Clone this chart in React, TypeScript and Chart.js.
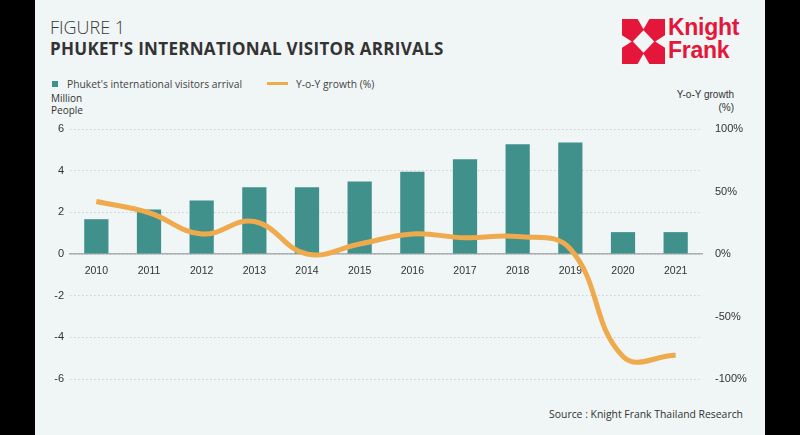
import React, { useEffect, useRef } from "react";
import { Chart, registerables } from "chart.js";

Chart.register(...registerables);

const years = ["2010", "2011", "2012", "2013", "2014", "2015", "2016", "2017", "2018", "2019", "2020", "2021"];
const arrivals = [1.67, 2.14, 2.57, 3.2, 3.2, 3.48, 3.95, 4.55, 5.27, 5.35, 1.05, 1.05];
const growth = [42, 33, 16, 26, 0, 8, 16, 13, 14, 4, -82, -81];
const leftRange = [-6, 6];
const rightRange = [-100, 100];

const barLabel = "Phuket's international visitors arrival";
const lineLabel = "Y-o-Y growth (%)";

const TEAL = "#40908b";
const ORANGE = "#eeaa4c";
const BG = "#f0f5f5";
const TXT = "#333";

function Logo() {
  return (
    <svg width={43} height={45} viewBox="0 0 44 44" preserveAspectRatio="none" style={{ position: "absolute", left: 622, top: 19 }}>
      <rect x={0} y={0} width={44} height={44} fill="#e4163a" />
      <polygon points="22,11 33,22 22,33 11,22" fill={BG} />
      <polygon points="16,0 28,0 22,10" fill={BG} />
      <polygon points="16,44 28,44 22,34" fill={BG} />
      <polygon points="0,16 0,28 10,22" fill={BG} />
      <polygon points="44,16 44,28 34,22" fill={BG} />
    </svg>
  );
}

export default function App() {
  const ref = useRef<HTMLCanvasElement | null>(null);

  useEffect(() => {
    if (!ref.current) return;
    const chart = new Chart(ref.current, {
      data: {
        labels: years,
        datasets: [
          {
            type: "line",
            label: lineLabel,
            data: growth,
            yAxisID: "y1",
            borderColor: ORANGE,
            borderWidth: 5,
            pointRadius: 0,
            tension: 0.42,
            fill: false,
            order: 0,
          },
          {
            type: "bar",
            label: barLabel,
            data: arrivals,
            yAxisID: "y",
            backgroundColor: TEAL,
            barPercentage: 0.46,
            categoryPercentage: 1,
            order: 1,
          },
        ],
      },
      options: {
        responsive: false,
        animation: false,
        layout: { padding: { top: 29, bottom: 21, left: 0, right: 0 } },
        plugins: { legend: { display: false }, tooltip: { enabled: false } },
        scales: {
          x: {
            type: "category",
            position: { y: 0 } as any,
            grid: { display: true, drawOnChartArea: false, drawTicks: false },
            border: { display: true, color: "#a7afaf", width: 1.5 },
            ticks: {
              color: TXT,
              font: { family: "Liberation Sans, Arial, sans-serif", size: 10.5 },
              padding: 11,
              maxRotation: 0,
            },
          },
          y: {
            type: "linear",
            position: "left",
            min: leftRange[0],
            max: leftRange[1],
            ticks: {
              stepSize: 2,
              color: TXT,
              font: { family: "Liberation Sans, Arial, sans-serif", size: 11 },
              padding: 6,
            },
            grid: { color: "#c9d0d0", lineWidth: 1, drawTicks: false },
            border: { display: false, dash: [1.5, 2.5] },
            afterFit: (s: any) => {
              s.width = 35;
            },
          },
          y1: {
            type: "linear",
            position: "right",
            min: rightRange[0],
            max: rightRange[1],
            ticks: {
              stepSize: 50,
              color: TXT,
              font: { family: "Liberation Sans, Arial, sans-serif", size: 11 },
              padding: 13,
              callback: (v: any) => v + "%",
            },
            grid: { display: false, drawTicks: false },
            border: { display: false },
            afterFit: (s: any) => {
              s.width = 63;
            },
          },
        },
      },
    });
    return () => chart.destroy();
  }, []);

  const sans = "'Open Sans', 'Noto Sans', sans-serif";
  const arial = "'Liberation Sans', Arial, sans-serif";

  return (
    <div style={{ position: "fixed", left: 0, top: 0, width: 800, height: 435, background: "#000", overflow: "hidden" }}>
      <div style={{ position: "absolute", left: 35, top: 0, width: 730, height: 435, background: BG }} />
      <div style={{ position: "absolute", left: 50, top: 15, fontFamily: sans, fontWeight: 300, fontSize: 18, color: "#3a3a3a", lineHeight: "24px", whiteSpace: "nowrap" }}>
        FIGURE 1
      </div>
      <div style={{ position: "absolute", left: 50, top: 37, fontFamily: sans, fontWeight: 700, fontSize: 17, color: "#333", lineHeight: "24px", whiteSpace: "nowrap", letterSpacing: 0.3 }}>
        PHUKET'S INTERNATIONAL VISITOR ARRIVALS
      </div>
      <Logo />
      <div style={{ position: "absolute", left: 668, top: 16, fontFamily: arial, fontWeight: 700, fontSize: 23, color: "#e4163a", lineHeight: "23px", whiteSpace: "nowrap", letterSpacing: -0.3 }}>
        Knight
        <br />
        Frank
      </div>
      {/* legend */}
      <div style={{ position: "absolute", left: 52, top: 81, width: 6, height: 6, background: TEAL }} />
      <div style={{ position: "absolute", left: 67, top: 76, fontFamily: sans, fontSize: 10.3, color: "#444", lineHeight: "16px", whiteSpace: "nowrap" }}>
        {barLabel}
      </div>
      <div style={{ position: "absolute", left: 267, top: 82, width: 21, height: 3, background: ORANGE }} />
      <div style={{ position: "absolute", left: 296, top: 76, fontFamily: sans, fontSize: 10.3, color: "#444", lineHeight: "16px", whiteSpace: "nowrap" }}>
        {lineLabel}
      </div>
      <div style={{ position: "absolute", left: 51, top: 93, fontFamily: sans, fontSize: 10, color: "#333", lineHeight: "11.5px", whiteSpace: "nowrap" }}>
        Million
        <br />
        People
      </div>
      <div style={{ position: "absolute", right: 800 - 734, top: 89, fontFamily: arial, fontSize: 10, color: "#333", lineHeight: "12.5px", whiteSpace: "nowrap", textAlign: "right" }}>
        Y-o-Y growth
        <br />
        (%)
      </div>
      <canvas ref={ref} width={730} height={300} style={{ position: "absolute", left: 35, top: 100, width: 730, height: 300 }} />
      <div style={{ position: "absolute", right: 800 - 743, top: 406, fontFamily: sans, fontSize: 10.4, color: "#333", lineHeight: "16px", whiteSpace: "nowrap" }}>
        Source : Knight Frank Thailand Research
      </div>
    </div>
  );
}
